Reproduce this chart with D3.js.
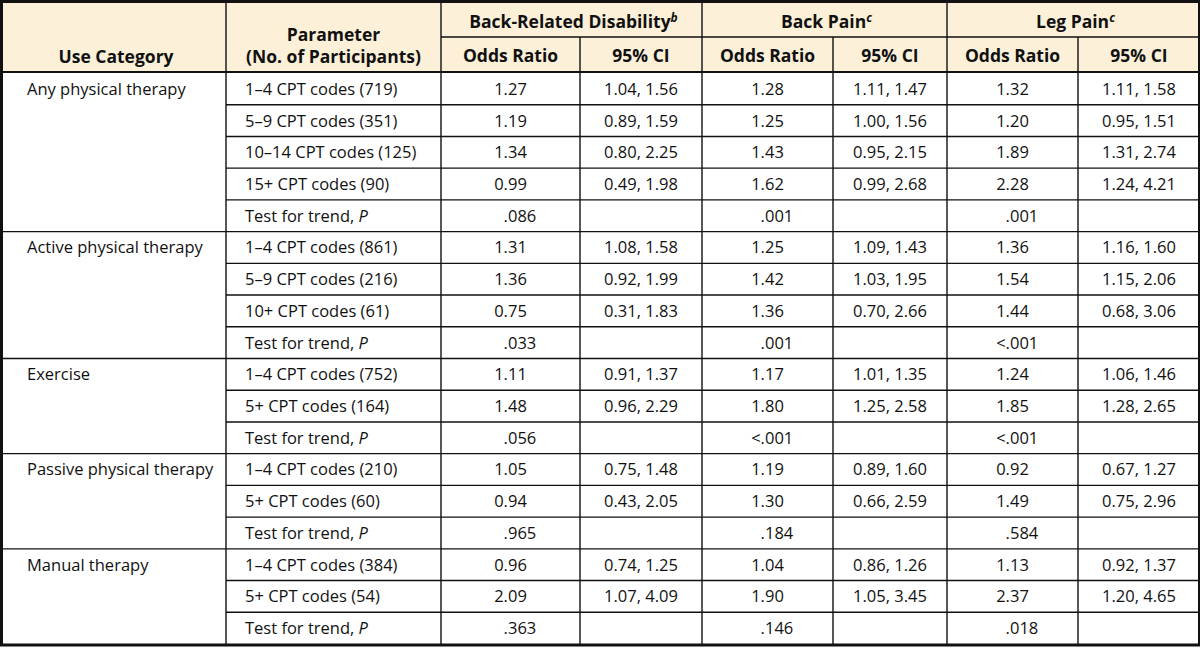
<!DOCTYPE html>
<html><head><meta charset="utf-8">
<script src="https://cdn.jsdelivr.net/npm/d3@7"></script>
<style>
html,body{margin:0;padding:0;background:#fff;}
svg text{font-family:"Open Sans","Noto Sans",sans-serif;fill:#111;}
</style></head>
<body><svg id="c" width="1200" height="648"></svg>
<script>
const categories = ["Any physical therapy","Active physical therapy","Exercise","Passive physical therapy","Manual therapy"];
const categorySizes = [5,4,3,3,3];
const parameters = [
 "1–4 CPT codes (719)","5–9 CPT codes (351)","10–14 CPT codes (125)","15+ CPT codes (90)","Test for trend, P",
 "1–4 CPT codes (861)","5–9 CPT codes (216)","10+ CPT codes (61)","Test for trend, P",
 "1–4 CPT codes (752)","5+ CPT codes (164)","Test for trend, P",
 "1–4 CPT codes (210)","5+ CPT codes (60)","Test for trend, P",
 "1–4 CPT codes (384)","5+ CPT codes (54)","Test for trend, P"];
const disabilityOR = ["1.27","1.19","1.34","0.99",".086","1.31","1.36","0.75",".033","1.11","1.48",".056","1.05","0.94",".965","0.96","2.09",".363"];
const disabilityCI = ["1.04, 1.56","0.89, 1.59","0.80, 2.25","0.49, 1.98","","1.08, 1.58","0.92, 1.99","0.31, 1.83","","0.91, 1.37","0.96, 2.29","","0.75, 1.48","0.43, 2.05","","0.74, 1.25","1.07, 4.09",""];
const backOR = ["1.28","1.25","1.43","1.62",".001","1.25","1.42","1.36",".001","1.17","1.80","<.001","1.19","1.30",".184","1.04","1.90",".146"];
const backCI = ["1.11, 1.47","1.00, 1.56","0.95, 2.15","0.99, 2.68","","1.09, 1.43","1.03, 1.95","0.70, 2.66","","1.01, 1.35","1.25, 2.58","","0.89, 1.60","0.66, 2.59","","0.86, 1.26","1.05, 3.45",""];
const legOR = ["1.32","1.20","1.89","2.28",".001","1.36","1.54","1.44","<.001","1.24","1.85","<.001","0.92","1.49",".584","1.13","2.37",".018"];
const legCI = ["1.11, 1.58","0.95, 1.51","1.31, 2.74","1.24, 4.21","","1.16, 1.60","1.15, 2.06","0.68, 3.06","","1.06, 1.46","1.28, 2.65","","0.67, 1.27","0.75, 2.96","","0.92, 1.37","1.20, 4.65",""];
const groupHeaders = [{t:"Back-Related Disability",s:"b"},{t:"Back Pain",s:"c"},{t:"Leg Pain",s:"c"}];
const subHeaders = ["Odds Ratio","95% CI"];

const svg = d3.select("#c");
const W = 1200, H = 648;
const edges = [0,226,441,580,702,833,947,1078,1200];
const headTop = 2, headMid = 37, headBot = 72, tableBot = 644;
const y = d3.scaleBand().domain(d3.range(parameters.length)).range([headBot+1, tableBot]);
const FS = 16.5, HFS = 17.5;

// header bg
svg.append("rect").attr("x",0).attr("y",0).attr("width",W).attr("height",headBot).attr("fill","#fcf0d9");

const cols = [null,null,disabilityOR,disabilityCI,backOR,backCI,legOR,legCI];
const colCenter = i => (edges[i]+edges[i+1])/2;

// measure helper
const meas = svg.append("text").attr("font-size",FS).attr("x",-999).attr("y",-999);
function tw(s){ meas.text(s); return meas.node().getComputedTextLength(); }

// body text
parameters.forEach((p,r)=>{
  const cy = y(r)+y.bandwidth()/2;
  const isTest = p.startsWith("Test");
  const t = svg.append("text").attr("x",edges[1]+19).attr("y",cy).attr("dy","0.36em").attr("font-size",FS);
  if(isTest){ t.append("tspan").text("Test for trend, "); t.append("tspan").attr("font-style","italic").text("P"); }
  else t.text(p);
  for(let c=2;c<8;c++){
    const v = cols[c][r];
    if(!v) continue;
    if(isTest){
      const dec = colCenter(c) - tw("1.27")/2 + tw("1");
      const lt = v.startsWith("<") ? tw("<") : 0;
      svg.append("text").attr("x",dec-lt).attr("y",cy).attr("dy","0.36em").attr("font-size",FS).text(v);
    } else {
      svg.append("text").attr("x",colCenter(c)).attr("y",cy).attr("dy","0.36em").attr("text-anchor","middle").attr("font-size",FS).text(v);
    }
  }
});
meas.remove();

// categories
let start = 0;
const groupStarts = [];
categories.forEach((cName,i)=>{
  groupStarts.push(start);
  svg.append("text").attr("x",27).attr("y",y(start)+y.bandwidth()/2).attr("dy","0.36em").attr("font-size",FS).text(cName);
  start += categorySizes[i];
});

// headers
svg.append("text").attr("x",colCenter(0)+3).attr("y",63).attr("text-anchor","middle").attr("font-size",HFS).attr("font-weight","bold").text("Use Category");
svg.append("text").attr("x",colCenter(1)).attr("y",41).attr("text-anchor","middle").attr("font-size",HFS).attr("font-weight","bold").text("Parameter");
svg.append("text").attr("x",colCenter(1)).attr("y",63).attr("text-anchor","middle").attr("font-size",HFS).attr("font-weight","bold").text("(No. of Participants)");
groupHeaders.forEach((g,i)=>{
  const x0 = edges[2+2*i], x1 = edges[4+2*i];
  const t = svg.append("text").attr("x",(x0+x1)/2+2).attr("y",28).attr("text-anchor","middle").attr("font-size",HFS).attr("font-weight","bold");
  t.append("tspan").text(g.t);
  t.append("tspan").attr("font-size",12).attr("font-style","italic").attr("dy",-6).text(g.s);
  subHeaders.forEach((s,j)=>{
    svg.append("text").attr("x",colCenter(2+2*i+j)).attr("y",62).attr("text-anchor","middle").attr("font-size",HFS).attr("font-weight","bold").text(s);
  });
});

// lines
const L = (x1,y1,x2,y2,w)=>svg.append("line").attr("x1",x1).attr("y1",y1).attr("x2",x2).attr("y2",y2).attr("stroke","#111").attr("stroke-width",w||1.3);
for(let r=1;r<parameters.length;r++){
  const full = groupStarts.includes(r);
  L(full?0:edges[1], y(r), W, y(r), 1.4);
}
L(edges[2], headMid, W, headMid, 1.3);
L(0, headBot, W, headBot, 2.2);
[1,2,4,6].forEach(i=>L(edges[i],0,edges[i],tableBot,1.4));
[3,5,7].forEach(i=>L(edges[i],headMid,edges[i],tableBot,1.4));
// outer border
L(0,1.5,W,1.5,3);
L(1.5,0,1.5,tableBot+2,3);
L(0,tableBot+1,W,tableBot+1,3);
L(W-1,0,W-1,tableBot+2,2);
</script></body></html>
